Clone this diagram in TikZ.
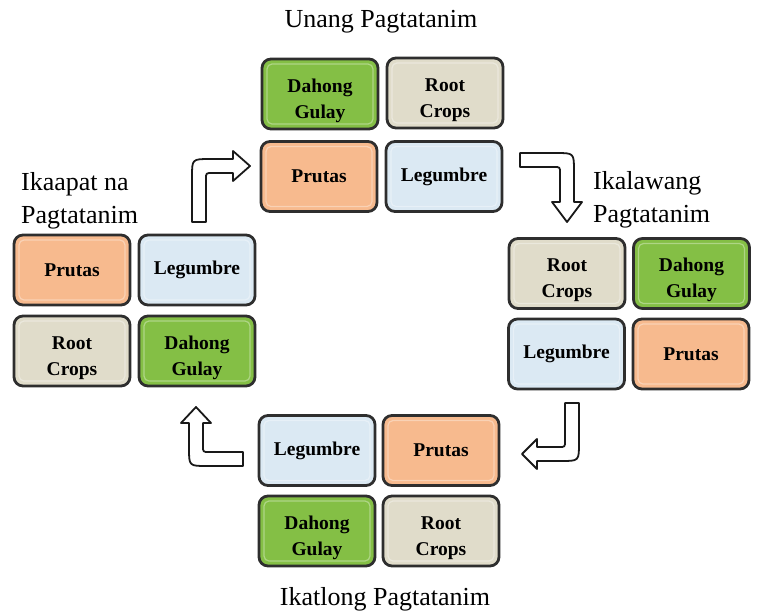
\documentclass[tikz,border=0pt]{standalone}
\usepackage{fontspec}
\setmainfont{Liberation Serif}
\definecolor{gulay}{HTML}{84BF45}
\definecolor{root}{HTML}{E0DCCA}
\definecolor{prutas}{HTML}{F7BA8E}
\definecolor{legum}{HTML}{DBE9F3}
\definecolor{rim}{HTML}{2E2E2E}
\tikzset{
  crop/.style={draw=rim, line width=2.8pt, rounded corners=9pt,
    minimum width=116pt, minimum height=70pt, inner sep=0pt, align=center,
    font=\bfseries\fontsize{19.5}{26}\selectfont,
    path picture={\draw[white,opacity=.35,line width=1.2pt,rounded corners=5pt]
      ([shift={(5pt,-5pt)}]path picture bounding box.north west) rectangle
      ([shift={(-5pt,5pt)}]path picture bounding box.south east);}},
  twoline/.style={text height=48pt, text depth=0pt},
  dg/.style={crop, fill=gulay, twoline},
  rc/.style={crop, fill=root, twoline},
  pr/.style={crop, fill=prutas, text depth=-2pt},
  lg/.style={crop, fill=legum},
  title/.style={inner sep=0pt, font=\fontsize{26}{33}\selectfont},
  turn/.style={draw=black!90, fill=white, line width=1.8pt, line join=round}
}
\begin{document}
\begin{tikzpicture}[x=1pt, y=-1pt]
\useasboundingbox (0,0) rectangle (760,614);

% first planting
\node[dg] (a1) at (320,94) {Dahong\\Gulay};
\node[rc] (a2) at (445,93) {Root\\Crops};
\node[pr] (a3) at (319,176.5) {Prutas};
\node[lg] (a4) at (444,176.5) {Legumbre};

% second planting
\node[rc] (b1) at (567,273.5) {Root\\Crops};
\node[dg] (b2) at (691.5,273.5) {Dahong\\Gulay};
\node[lg] (b3) at (566.5,354) {Legumbre};
\node[pr] (b4) at (691,354) {Prutas};

% third planting
\node[lg] (c1) at (317,450.5) {Legumbre};
\node[pr] (c2) at (441,450.5) {Prutas};
\node[dg] (c3) at (317,531) {Dahong\\Gulay};
\node[rc] (c4) at (441,531) {Root\\Crops};

% fourth planting
\node[pr] (d1) at (72,270) {Prutas};
\node[lg] (d2) at (197,270) {Legumbre};
\node[rc] (d3) at (72,351) {Root\\Crops};
\node[dg] (d4) at (197,351) {Dahong\\Gulay};

% headings (base anchor of a two-line heading sits on its last line)
\node[title, anchor=base] (t1) at (381,27) {Unang Pagtatanim};
\node[title, anchor=base west, align=left] (t2) at (593,222) {Ikalawang\\Pagtatanim};
\node[title, anchor=base] (t3) at (385,605) {Ikatlong Pagtatanim};
\node[title, anchor=base west, align=left] (t4) at (21,223) {Ikaapat na\\Pagtatanim};

% bent block arrows between the plantings
\draw[turn] (192,222) -- (192,177) .. controls (192,159) .. (210,159)
  -- (233,159) -- (233,151) -- (250,166) -- (233,181) -- (233,173)
  -- (212,173) .. controls (206,173) .. (206,179) -- (206,222) -- cycle;
\draw[turn] (520,153) -- (556,153) .. controls (574,153) .. (574,171)
  -- (574,202) -- (582,202) -- (567,222) -- (552,202) -- (560,202)
  -- (560,173) .. controls (560,167) .. (554,167) -- (520,167) -- cycle;
\draw[turn] (565,403) -- (579,403) -- (579,443) .. controls (579,461) .. (561,461)
  -- (537,461) -- (537,469) -- (522,454) -- (537,439) -- (537,447)
  -- (559,447) .. controls (565,447) .. (565,441) -- cycle;
\draw[turn] (243,452) -- (243,466) -- (207,466) .. controls (189,466) .. (189,448)
  -- (189,423) -- (181,423) -- (196,407) -- (211,423) -- (203,423)
  -- (203,446) .. controls (203,452) .. (209,452) -- cycle;
\end{tikzpicture}
\end{document}
